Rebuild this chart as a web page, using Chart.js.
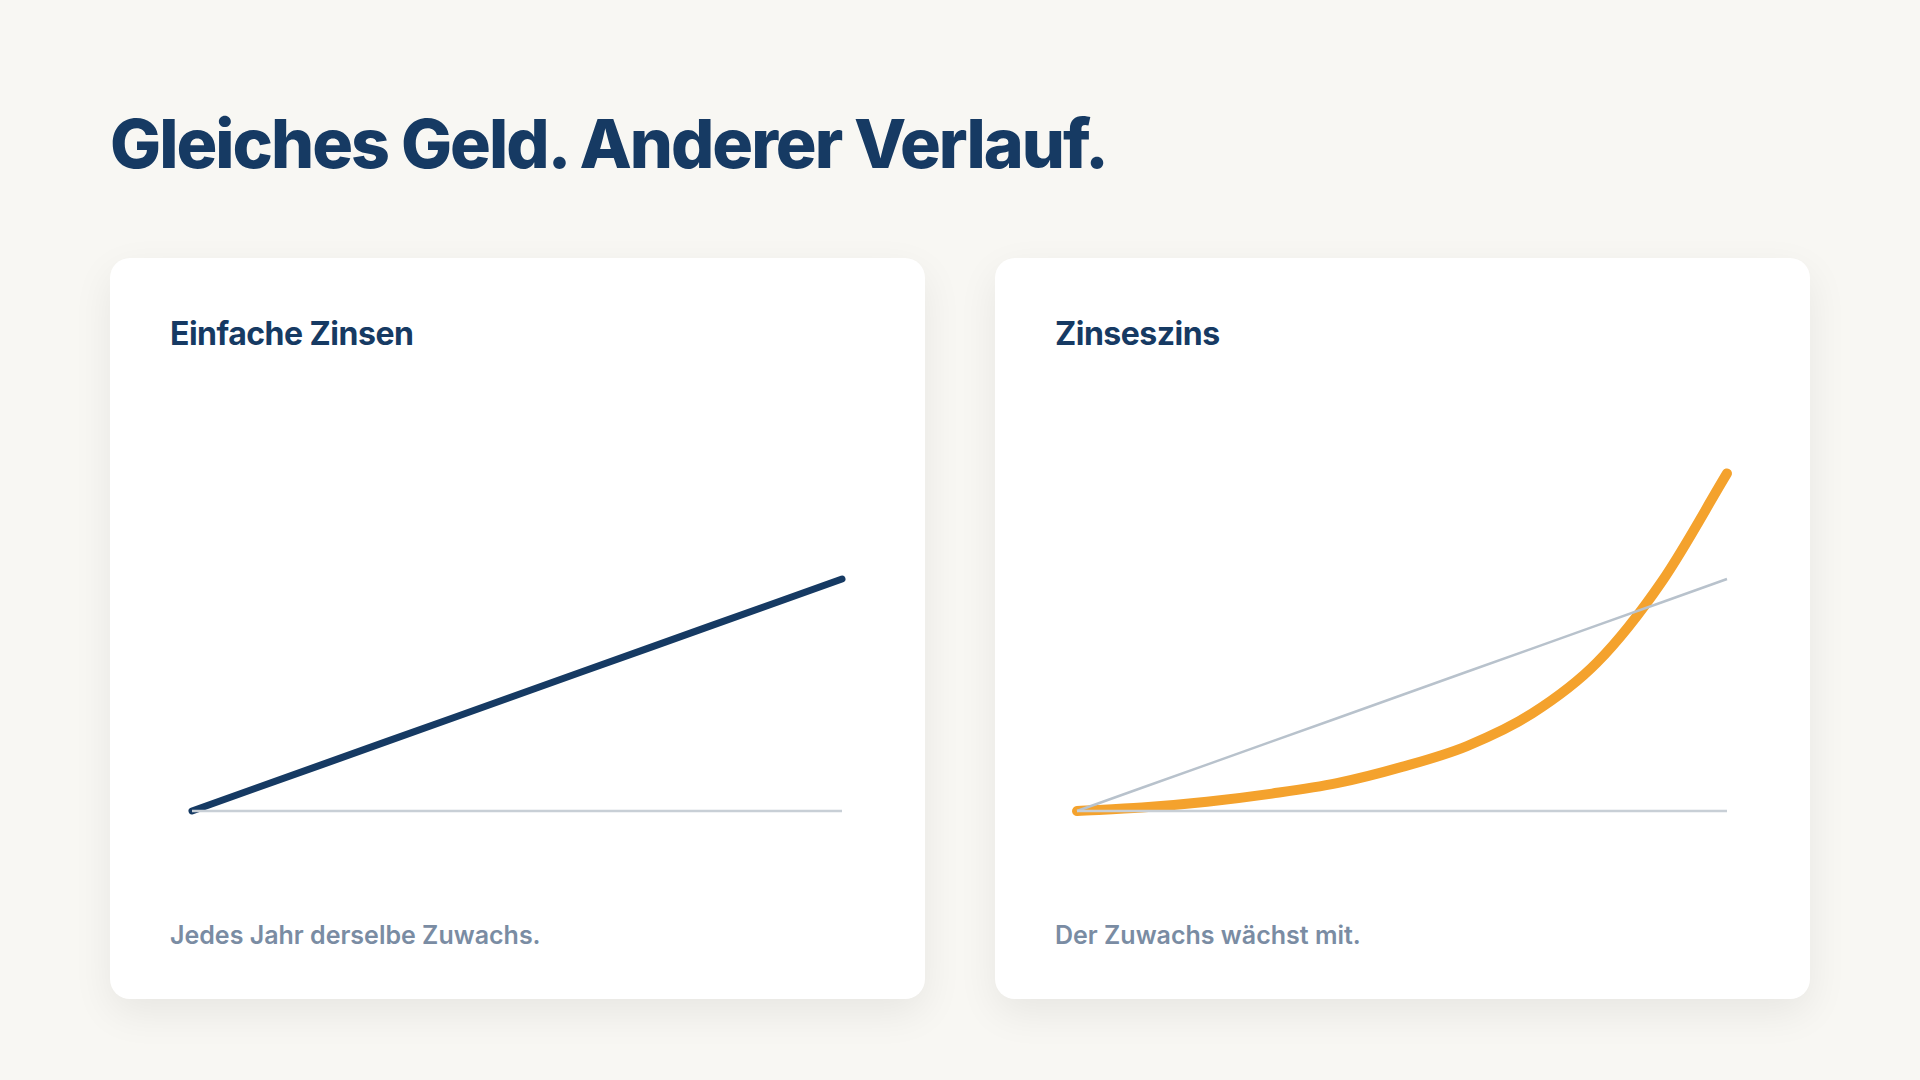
<!DOCTYPE html>
<html><head><meta charset="utf-8">
<script src="https://cdn.jsdelivr.net/npm/chart.js@4"></script>
<style>
body{margin:0;width:1920px;height:1080px;background:#f8f7f3;font-family:Inter,"Liberation Sans",sans-serif;overflow:hidden;position:relative}
h1{position:absolute;left:110px;top:102px;margin:0;font-size:68px;font-weight:800;color:#163a63;letter-spacing:-2px}
.card{position:absolute;top:258px;width:815px;height:741px;background:#fff;border-radius:20px;box-shadow:0 14px 40px rgba(0,0,0,0.07)}
.card h2{position:absolute;left:60px;top:56px;margin:0;font-size:32px;font-weight:700;color:#163a63;letter-spacing:-0.5px}
.card p{position:absolute;left:60px;top:662px;margin:0;font-size:25px;font-weight:600;color:#7a8ca3}
.box{position:absolute;left:74px;top:197px;width:666px;height:364px}
</style></head><body>
<h1>Gleiches Geld. Anderer Verlauf.</h1>
<div class="card" style="left:110px"><h2>Einfache Zinsen</h2><div class="box"><canvas id="c1"></canvas></div><p>Jedes Jahr derselbe Zuwachs.</p></div>
<div class="card" style="left:995px"><h2>Zinseszins</h2><div class="box"><canvas id="c2"></canvas></div><p>Der Zuwachs wächst mit.</p></div>
<script>
var years = [0,1,2,3,4,5,6,7,8,9,10];
var simple = [0,10,20,30,40,50,60,70,80,90,100];
var compound = [0,1.5,4,7.5,12,19,28,42,64,99,145.5];
var baseline = [0,0,0,0,0,0,0,0,0,0,0];

function opts(){
  return {
    responsive:true, maintainAspectRatio:false, animation:false,
    layout:{padding:8},
    plugins:{legend:{display:false},tooltip:{enabled:false}},
    elements:{point:{radius:0}},
    scales:{
      x:{type:'linear',min:0,max:10,display:false},
      y:{min:0,max:150,display:false}
    }
  };
}

new Chart(document.getElementById('c1'), {
  type:'line',
  data:{labels:years, datasets:[
    {data:baseline, borderColor:'#c8cfd6', borderWidth:2.5, clip:false},
    {data:simple, borderColor:'#163a63', borderWidth:7, borderCapStyle:'round', clip:false}
  ]},
  options:opts()
});

new Chart(document.getElementById('c2'), {
  type:'line',
  data:{labels:years, datasets:[
    {data:baseline, borderColor:'#c8cfd6', borderWidth:2.5, clip:false},
    {data:simple, borderColor:'#b8c2cc', borderWidth:2.5, clip:false},
    {data:compound, borderColor:'#f4a22d', borderWidth:10, borderCapStyle:'round', cubicInterpolationMode:'monotone', clip:false}
  ]},
  options:opts()
});
</script>
</body></html>
